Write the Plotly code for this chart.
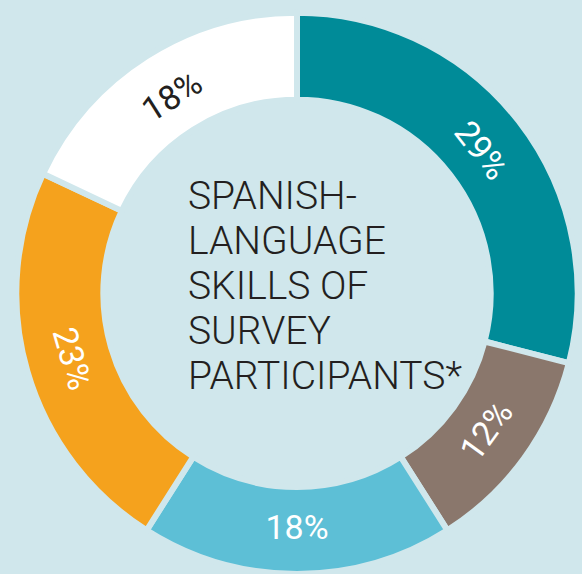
import plotly.graph_objects as go

labels = ["Segment A", "Segment B", "Segment C", "Segment D", "Segment E"]
values = [29, 12, 18, 23, 18]
text_labels = ["29%", "12%", "18%", "23%", "18%"]
colors = ["#008B98", "#8A776C", "#5DBFD6", "#F5A21D", "#FFFFFF"]
text_colors = ["#FFFFFF", "#FFFFFF", "#FFFFFF", "#FFFFFF", "#231F20"]
center_lines = ["SPANISH-", "LANGUAGE", "SKILLS OF", "SURVEY", "PARTICIPANTS*"]

BG = "#D0E7EC"
W, H = 582, 574

fig = go.Figure(go.Pie(
    labels=labels,
    values=values,
    text=text_labels,
    textinfo="text",
    textposition="inside",
    insidetextorientation="tangential",
    textfont=dict(family="Roboto", size=34, color=text_colors, weight=400),
    marker=dict(colors=colors, line=dict(color=BG, width=6)),
    hole=0.69,
    sort=False,
    direction="clockwise",
    rotation=0,
    showlegend=False,
    domain=dict(x=[15 / W, 579 / W], y=[0.0, 0.978]),
))

# centre title, one annotation per line for tight line spacing
first_center_px = 195.5
line_step_px = 45
for i, line in enumerate(center_lines):
    ypx = first_center_px + i * line_step_px
    fig.add_annotation(
        text=line,
        x=186 / W, y=(H - ypx) / H, xref="paper", yref="paper",
        xanchor="left", yanchor="middle", align="left",
        showarrow=False,
        font=dict(family="Roboto", size=39, color="#231F20", weight=300),
    )

fig.update_layout(
    width=W, height=H,
    margin=dict(l=0, r=0, t=0, b=0),
    paper_bgcolor=BG, plot_bgcolor=BG,
)

fig.write_html("out.html")
